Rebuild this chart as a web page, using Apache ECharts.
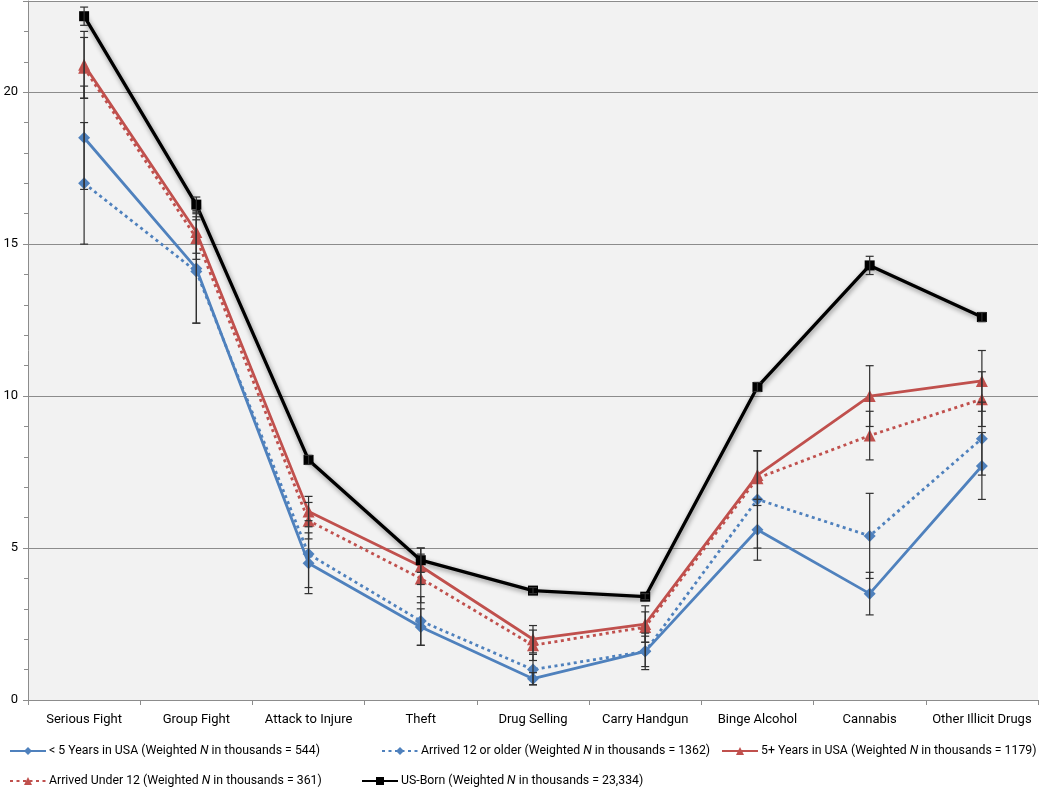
<!DOCTYPE html>
<html>
<head>
<meta charset="utf-8">
<script src="https://cdn.jsdelivr.net/npm/echarts@6/dist/echarts.min.js"></script>
<style>html,body{margin:0;padding:0;background:#fff}#c{width:1050px;height:792px}</style>
</head>
<body>
<div id="c"></div>
<script>
var categories = ['Serious Fight','Group Fight','Attack to Injure','Theft','Drug Selling','Carry Handgun','Binge Alcohol','Cannabis','Other Illicit Drugs'];
var yTicks = [0, 5, 10, 15, 20];

var nameLt5 = '< 5 Years in USA (Weighted N in thousands = 544)';
var name12 = 'Arrived 12 or older (Weighted N in thousands = 1362)';
var name5p = '5+ Years in USA (Weighted N in thousands = 1179)';
var nameU12 = 'Arrived Under 12 (Weighted N in thousands = 361)';
var nameUS = 'US-Born (Weighted N in thousands = 23,334)';

var lt5Values = [18.5, 14.2, 4.5, 2.4, 0.7, 1.6, 5.6, 3.5, 7.7];
var lt5Err    = [1.7, 1.8, 1.0, 0.6, 0.2, 0.5, 1.0, 0.7, 1.1];
var a12Values = [17.0, 14.1, 4.8, 2.6, 1.0, 1.6, 6.6, 5.4, 8.6];
var a12Err    = [2.0, 1.7, 1.1, 0.8, 0.5, 0.6, 1.6, 1.4, 1.2];
var p5Values  = [20.9, 15.4, 6.2, 4.4, 2.0, 2.5, 7.4, 10.0, 10.5];
var p5Err     = [1.1, 0.7, 0.5, 0.6, 0.45, 0.6, 0.8, 1.0, 1.0];
var u12Values = [20.8, 15.2, 5.9, 4.0, 1.8, 2.4, 7.3, 8.7, 9.9];
var u12Err    = [1.0, 0.7, 0.6, 0.8, 0.5, 0.5, 0.9, 0.8, 0.9];
var usValues  = [22.5, 16.3, 7.9, 4.6, 3.6, 3.4, 10.3, 14.3, 12.6];
var usErr     = [0.3, 0.25, 0.15, 0.4, 0.1, 0.1, 0.15, 0.3, 0.15];

var FONT = 'Roboto, "Liberation Sans", sans-serif';
var BLUE = '#4F81BD', RED = '#C0504D', BLACK = '#000000';

function errData(vals, errs) {
  return vals.map(function (v, i) { return [i, v - errs[i], v + errs[i]]; });
}
function renderErr(params, api) {
  var x = api.value(0), lo = api.value(1), hi = api.value(2);
  var t = api.coord([x, hi]), b = api.coord([x, lo]);
  var w = 4;
  var st = { stroke: '#303030', lineWidth: 1.2 };
  return { type: 'group', children: [
    { type: 'line', shape: { x1: t[0], y1: t[1], x2: b[0], y2: b[1] }, style: st },
    { type: 'line', shape: { x1: t[0] - w, y1: t[1], x2: t[0] + w, y2: t[1] }, style: st },
    { type: 'line', shape: { x1: b[0] - w, y1: b[1], x2: b[0] + w, y2: b[1] }, style: st }
  ]};
}
function errSeries(id, vals, errs) {
  return { type: 'custom', name: id, renderItem: renderErr, data: errData(vals, errs),
    encode: { x: 0, y: [1, 2] }, z: 3, silent: true };
}
function lineSeries(name, vals, color, dotted, symbol, size, width, extra) {
  var s = { type: 'line', name: name, data: vals, symbol: symbol, symbolSize: size,
    lineStyle: { color: color, width: width, type: dotted ? [3, 3.5] : 'solid' },
    itemStyle: { color: color }, z: 2 };
  if (extra) for (var k in extra) s.lineStyle[k] = extra[k];
  return s;
}
function legendAt(name, left, top) {
  return { data: [name], left: left, top: top, itemWidth: 36, itemHeight: 10, itemGap: 5,
    textStyle: { fontFamily: FONT, fontSize: 12.3, color: '#000', padding: [0, 0, 0, -2],
      rich: { i: { fontFamily: FONT, fontSize: 12.3, fontStyle: 'italic', color: '#000' } } },
    formatter: function (n) { return n.replace(' N ', ' {i|N} '); } };
}

var chart = echarts.init(document.getElementById('c'), null, { renderer: 'canvas' });
chart.setOption({
  backgroundColor: '#ffffff',
  animation: false,
  grid: { left: 28, right: 12, top: 1, bottom: 92, show: true, backgroundColor: '#F2F2F2', borderWidth: 0 },
  legend: [
    legendAt(nameLt5, 4, 740),
    legendAt(name12, 376, 740),
    legendAt(name5p, 716, 740),
    legendAt(nameU12, 4, 770),
    legendAt(nameUS, 356, 770)
  ],
  xAxis: {
    type: 'category', data: categories, boundaryGap: true,
    axisLine: { lineStyle: { color: '#8C8C8C', width: 1 } },
    axisTick: { show: true, length: 5, lineStyle: { color: '#8C8C8C' } },
    axisLabel: { interval: 0, fontFamily: FONT, fontSize: 13, color: '#000', margin: 13 }
  },
  yAxis: {
    type: 'value', min: 0, max: 23, interval: 5,
    axisLine: { show: true, lineStyle: { color: '#8C8C8C' } },
    axisTick: { show: true, length: 5, lineStyle: { color: '#8C8C8C' } },
    minorTick: { show: true, splitNumber: 5, length: 4, lineStyle: { color: '#8C8C8C' } },
    splitLine: { show: true, lineStyle: { color: '#8C8C8C', width: 1 } },
    axisLabel: { fontFamily: FONT, fontSize: 13, color: '#000', margin: 10,
      formatter: function (v) { return yTicks.indexOf(v) >= 0 ? String(v) : ''; } }
  },
  series: [
    lineSeries(nameLt5, lt5Values, BLUE, false, 'diamond', 12, 2.8),
    lineSeries(name12, a12Values, BLUE, true, 'diamond', 12, 2.8),
    lineSeries(name5p, p5Values, RED, false, 'triangle', 12, 2.8),
    lineSeries(nameU12, u12Values, RED, true, 'triangle', 12, 2.8),
    lineSeries(nameUS, usValues, BLACK, false, 'rect', 10, 3.3,
      { shadowColor: 'rgba(0,0,0,0.45)', shadowBlur: 5, shadowOffsetX: 1, shadowOffsetY: 2 }),
    errSeries('errLt5', lt5Values, lt5Err),
    errSeries('err12', a12Values, a12Err),
    errSeries('err5p', p5Values, p5Err),
    errSeries('errU12', u12Values, u12Err),
    errSeries('errUS', usValues, usErr)
  ]
});
</script>
</body>
</html>
